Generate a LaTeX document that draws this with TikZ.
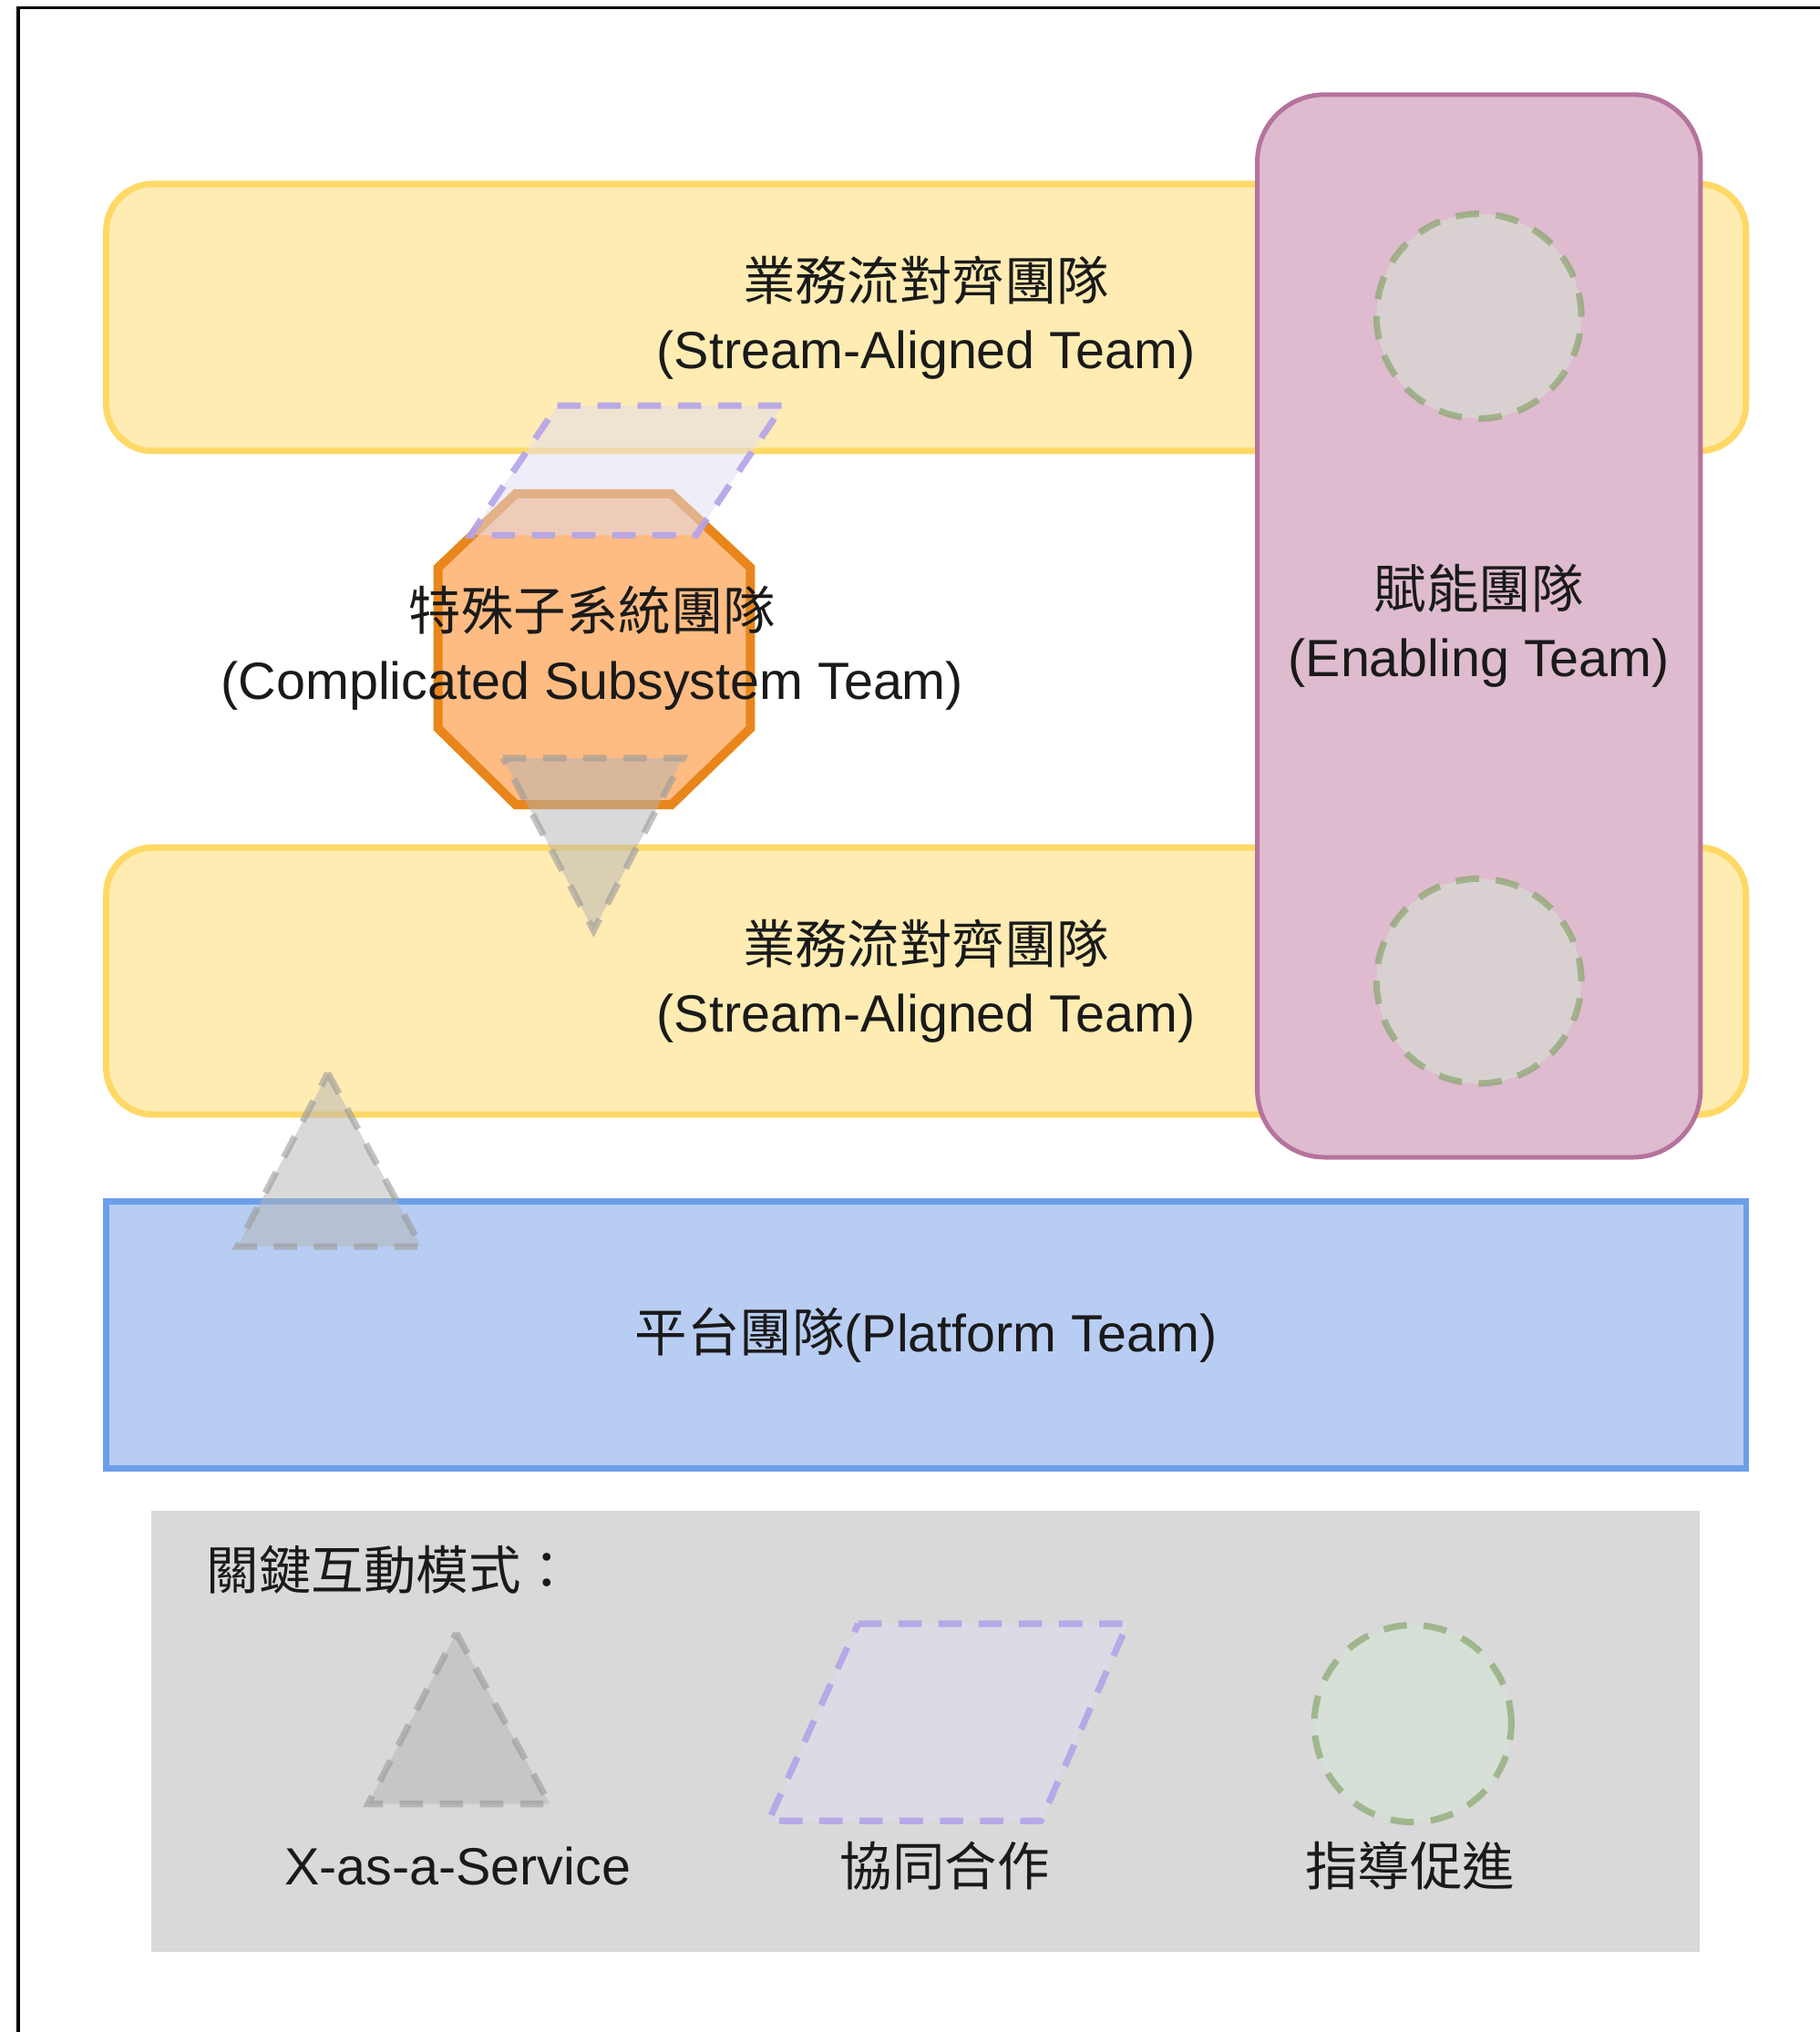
\documentclass[tikz,border=0pt]{standalone}
\usepackage{fontspec}
\setmainfont{Liberation Sans}
\newfontfamily\cjk{Noto Sans CJK TC}
\definecolor{yfill}{HTML}{FFECB3}
\definecolor{ystroke}{HTML}{FFD966}
\definecolor{pfill}{HTML}{DEBBCE}
\definecolor{pstroke}{HTML}{B5739D}
\definecolor{ofill}{HTML}{FFBC82}
\definecolor{ostroke}{HTML}{E8861C}
\definecolor{bfill}{HTML}{B8CDF2}
\definecolor{bstroke}{HTML}{6C9EEB}
\definecolor{lfill}{HTML}{D9D9D9}
\definecolor{gfill}{HTML}{D5E8D4}
\definecolor{gstroke}{HTML}{82A366}
\definecolor{cfill}{HTML}{E0DCF2}
\definecolor{cstroke}{HTML}{B4A3E8}
\definecolor{xfill}{HTML}{B4B4B4}
\definecolor{xstroke}{HTML}{9A9A9A}
\definecolor{txt}{HTML}{1A1A1A}
\begin{document}
\begin{tikzpicture}[x=1pt,y=-1pt,
  lbl/.style={font=\fontsize{40.4}{53}\selectfont, text=txt, align=center},
  team/.style={lbl, draw=ystroke, fill=yfill, line width=5pt, rounded corners=36pt,
    minimum width=1265pt, minimum height=206pt},
  enabling/.style={lbl, draw=pstroke, fill=pfill, line width=3.5pt, rounded corners=52pt,
    minimum width=342pt, minimum height=820pt},
  platform/.style={lbl, draw=bstroke, fill=bfill, line width=4.5pt,
    minimum width=1265pt, minimum height=206pt},
  legendbox/.style={fill=lfill, minimum width=1194pt, minimum height=340pt},
  dsh/.style={line width=5pt, dash pattern=on 18pt off 13pt},
  facil/.style={dsh, fill=gfill, fill opacity=0.5, draw=gstroke, draw opacity=0.65},
  collab/.style={dsh, fill=cfill, fill opacity=0.5, draw=cstroke, draw opacity=0.9},
  xaas/.style={dsh, fill=xfill, fill opacity=0.5, draw=xstroke, draw opacity=0.6},
  octa/.style={draw=ostroke, fill=ofill, line width=7pt, line join=miter},
]
\useasboundingbox (0,0) rectangle (1404,1568);
\fill[white] (0,0) rectangle (1404,1568);
\draw[line width=2.5pt] (14,1568) -- (14,6) -- (1404,6);

% stream-aligned teams
\node[team] (sa1) at (714.5,245) {{\cjk 業務流對齊團隊}\\(Stream-Aligned Team)};
\node[team] (sa2) at (714.5,757) {{\cjk 業務流對齊團隊}\\(Stream-Aligned Team)};

% enabling team
\node[enabling] (en) at (1141,483) {{\cjk 賦能團隊}\\(Enabling Team)};
\draw[facil] (1141,244) circle[radius=79pt];
\draw[facil] (1141,757) circle[radius=79pt];

% complicated subsystem team
\draw[octa] (398,381) -- (518,381) -- (579,438) -- (579,562) -- (518,621)
  -- (398,621) -- (338,562) -- (338,438) -- cycle;
\node[lbl] (cs) at (457,500) {{\cjk 特殊子系統團隊}\\(Complicated Subsystem Team)};

% platform team
\node[platform] (pf) at (714.5,1030) {{\cjk 平台團隊}(Platform Team)};

% legend
\node[legendbox] (lg) at (714,1336) {};
\node[lbl, anchor=west] (lgt) at (156,1211) {\cjk 關鍵互動模式：};
\node[lbl] (l1) at (353,1440) {X-as-a-Service};
\node[lbl] (l2) at (729,1440) {\cjk 協同合作};
\node[lbl] (l3) at (1088,1440) {\cjk 指導促進};

% interaction overlays
\draw[collab] (430,313) -- (604,313) -- (537,413) -- (363,413) -- cycle;
\draw[xaas] (388,585) -- (527,585) -- (458,718) -- cycle;
\draw[xaas] (253,828) -- (325,962) -- (183,962) -- cycle;

% legend symbols
\draw[xaas] (352,1260) -- (424,1392) -- (284,1392) -- cycle;
\draw[collab] (662,1253) -- (870,1253) -- (803,1405) -- (593,1405) -- cycle;
\draw[facil] (1090,1330) circle[radius=76pt];
\end{tikzpicture}
\end{document}
